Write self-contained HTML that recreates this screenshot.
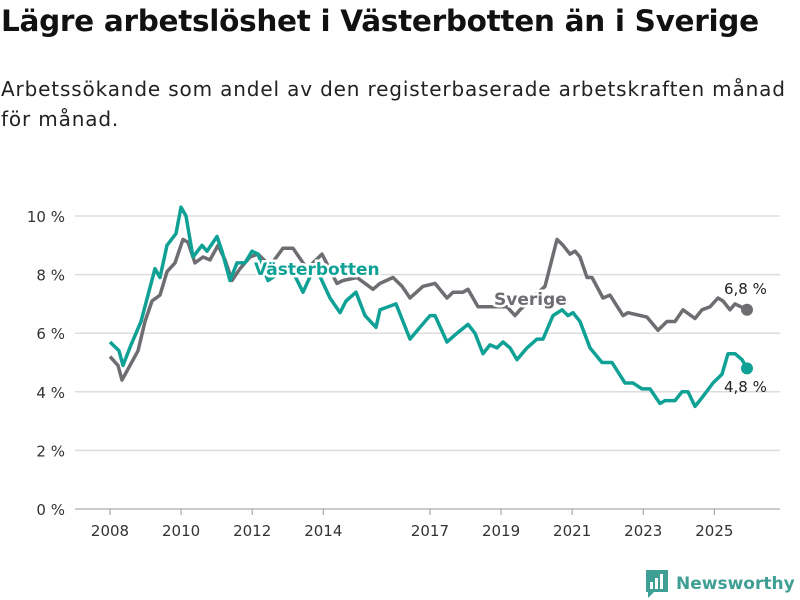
<!DOCTYPE html>
<html><head><meta charset="utf-8"><style>
body{margin:0;background:#fff;font-family:"DejaVu Sans","Liberation Sans",sans-serif;}
#c{position:relative;width:800px;height:600px;overflow:hidden}
h1{position:absolute;left:1px;top:4px;margin:0;font-size:29.5px;font-weight:bold;color:#111;white-space:nowrap;letter-spacing:-0.3px}
p.sub{position:absolute;left:1px;top:74px;margin:0;font-size:20px;color:#222;line-height:30px;width:798px;white-space:nowrap;letter-spacing:0.85px}
svg{position:absolute;left:0;top:0}
</style></head><body>
<div id="c">
<h1>Lägre arbetslöshet i Västerbotten än i Sverige</h1>
<p class="sub">Arbetssökande som andel av den registerbaserade arbetskraften månad<br>för månad.</p>
<svg id="s" width="800" height="600"></svg>
</div>
<script>
const yTicks=[0,2,4,6,8,10];
const xTicks=[2008,2010,2012,2014,2017,2019,2021,2023,2025];
const vbX=[110,119,123,131,141,148,155,160,167,176,181,186,193,202,207,217,222,230,237,245,252,258,268,290,303,315,330,340,346,356,365,376,380,396,410,420,430,435,447,457,468,475,483,490,497,503,510,517,527,537,543,553,562,568,573,580,590,602,612,625,633,642,650,660,665,675,682,688,695,702,713,722,728,735,742,747];
const vbY=[5.7,5.4,4.9,5.6,6.4,7.3,8.2,7.9,9.0,9.4,10.3,10.0,8.6,9.0,8.8,9.3,8.8,7.8,8.4,8.4,8.8,8.7,7.8,8.3,7.4,8.3,7.2,6.7,7.1,7.4,6.6,6.2,6.8,7.0,5.8,6.2,6.6,6.6,5.7,6.0,6.3,6.0,5.3,5.6,5.5,5.7,5.5,5.1,5.5,5.8,5.8,6.6,6.8,6.6,6.7,6.4,5.5,5.0,5.0,4.3,4.3,4.1,4.1,3.6,3.7,3.7,4.0,4.0,3.5,3.8,4.3,4.6,5.3,5.3,5.1,4.8];
const svX=[110,118,122,130,138,145,152,160,167,175,183,188,195,203,210,218,225,232,240,250,258,270,283,293,307,322,337,343,357,373,380,393,402,410,423,435,447,453,463,468,478,485,493,507,515,520,545,557,563,570,575,580,587,592,603,610,623,628,647,658,667,675,683,695,702,710,718,723,730,735,747];
const svY=[5.2,4.9,4.4,4.9,5.4,6.4,7.1,7.3,8.1,8.4,9.2,9.1,8.4,8.6,8.5,9.0,8.5,7.8,8.2,8.6,8.7,8.3,8.9,8.9,8.2,8.7,7.7,7.8,7.9,7.5,7.7,7.9,7.6,7.2,7.6,7.7,7.2,7.4,7.4,7.5,6.9,6.9,6.9,6.9,6.6,6.8,7.6,9.2,9.0,8.7,8.8,8.6,7.9,7.9,7.2,7.3,6.6,6.7,6.55,6.1,6.4,6.4,6.8,6.5,6.8,6.9,7.2,7.1,6.8,7.0,6.8];
const toYear=p=>2008+(p-110)/35.55;
const X=yr=>110+(yr-2008)*35.55, Y=v=>509-v*29.3;
const s=document.getElementById('s'),NS='http://www.w3.org/2000/svg';
function mk(t,a,txt){const e=document.createElementNS(NS,t);for(const k in a)e.setAttribute(k,a[k]);if(txt!=null)e.textContent=txt;s.appendChild(e);return e;}
for(const v of yTicks){
 const l=mk('line',{x1:75,x2:780,y1:Y(v),y2:Y(v),stroke:v===0?'#bbb':'#ddd','stroke-width':1.5});
 
 
 const t=mk('text',{x:65,y:Y(v)+6,'text-anchor':'end','font-size':15,fill:'#333'},v+' %');
 
 
}
for(const yr of xTicks){
 const tk=mk('line',{x1:X(yr),x2:X(yr),y1:509,y2:515,stroke:'#999','stroke-width':1});
 
 
 const t=mk('text',{x:X(yr),y:536,'text-anchor':'middle','font-size':15,fill:'#333'},String(yr));
 
 
}
function line(xs,ys,col,name){
 const d=xs.map((p,i)=>(i?'L':'M')+X(toYear(p)).toFixed(1)+','+Y(ys[i]).toFixed(1)).join('');
 const e=mk('path',{d,fill:'none',stroke:col,'stroke-width':3.5,'stroke-linejoin':'round'});
 
 
 const n=xs.length-1;
 const c=mk('circle',{cx:X(toYear(xs[n])),cy:Y(ys[n]),r:6,fill:col});
 
 
}
line(svX,svY,'#6e6d72','sverige');
line(vbX,vbY,'#0fa195','vasterbotten');
function lab(x,y,txt,col,name){
 const t=mk('text',{x,y,'font-size':17,'font-weight':'bold',fill:col,stroke:'#fff','stroke-width':5,'paint-order':'stroke'},txt);
 
 
}
lab(254,275,'Västerbotten','#0fa195','vasterbotten-label');
lab(494,305,'Sverige','#6e6d72','sverige-label');
const e1=mk('text',{x:724,y:294,'font-size':15,fill:'#222'},'6,8 %');


const e2=mk('text',{x:724,y:392,'font-size':15,fill:'#222'},'4,8 %');


const g=mk('g',{});


g.innerHTML='<path d="M646 570 h22 v22 h-14 l-6 6 v-6 h-2 z" fill="#3f9f94"/><rect x="650" y="582" width="3" height="7" fill="#fff"/><rect x="655" y="578" width="3" height="11" fill="#fff"/><rect x="660" y="574" width="3" height="15" fill="#fff"/><text x="676" y="589" font-size="17" font-weight="bold" fill="#3f9f94">Newsworthy</text>';
</script>
</body></html>
